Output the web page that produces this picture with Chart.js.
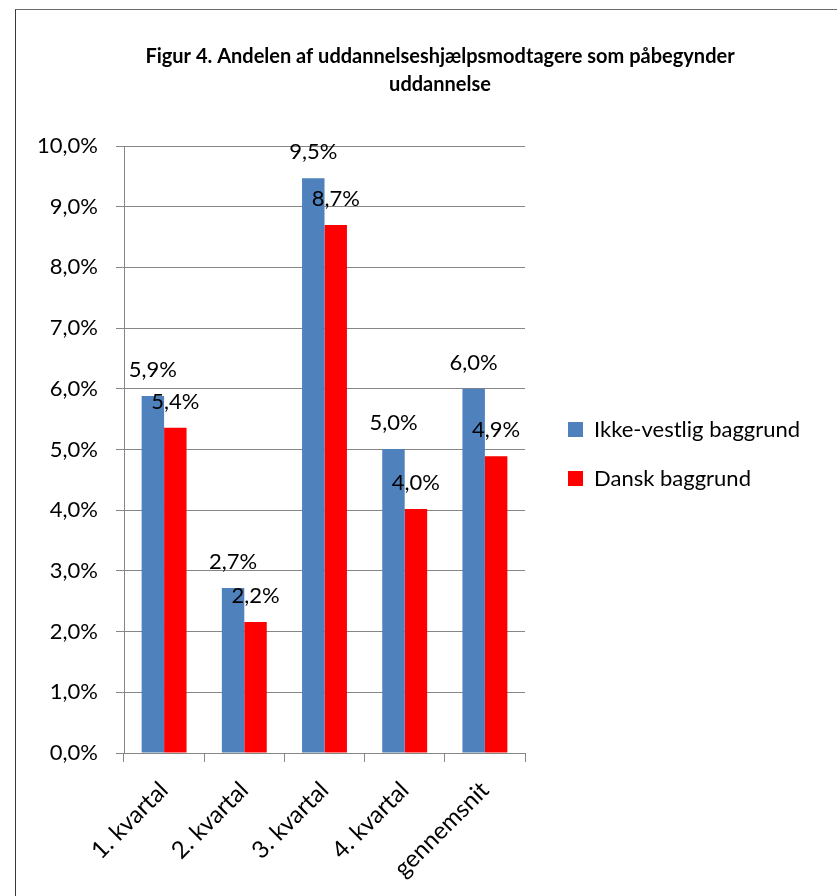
<!DOCTYPE html>
<html>
<head>
<meta charset="utf-8">
<script src="https://cdn.jsdelivr.net/npm/chart.js@4/dist/chart.umd.min.js"></script>
<style>
  html, body { margin: 0; padding: 0; background: #fff; overflow: hidden; }
  #frame {
    position: absolute; left: 15px; top: 9px; width: 900px; height: 900px;
    border-left: 1px solid #3a3a3a; border-top: 1px solid #6a6a6a;
  }
  #wrap { position: absolute; left: 0; top: 0; width: 860px; height: 896px; }
</style>
</head>
<body>
<div id="frame"></div>
<div id="wrap"><canvas id="chart" width="860" height="896"></canvas></div>
<script>
const categories = ["1. kvartal", "2. kvartal", "3. kvartal", "4. kvartal", "gennemsnit"];
const ikkeVestlig = [5.88, 2.72, 9.47, 5.01, 6.0];
const dansk = [5.36, 2.16, 8.7, 4.02, 4.89];
const seriesNames = ["Ikke-vestlig baggrund", "Dansk baggrund"];
const titleLines = ["Figur 4. Andelen af uddannelseshjælpsmodtagere som påbegynder", "uddannelse"];

const FONT = "Lato, 'Noto Sans', sans-serif";
const GRID = "#868686";

function pct(v) {
    return v.toFixed(1).replace(".", ",") + "%";
}

// Values above each bar, placed from the bar elements
const barLabels = {
    id: "barLabels",
    afterDatasetsDraw(chart) {
        const ctx = chart.ctx;
        ctx.save();
        ctx.font = "22px " + FONT;
        ctx.fillStyle = "#000";
        ctx.textAlign = "center";
        ctx.textBaseline = "alphabetic";
        chart.data.datasets.forEach((ds, i) => {
            chart.getDatasetMeta(i).data.forEach((bar, j) => {
                ctx.fillText(pct(ds.data[j]), bar.x, bar.y - 19);
            });
        });
        ctx.restore();
    },
};

// Fix the legend width and move the items a bit in from the plot
const legendPlace = {
    id: "legendPlace",
    beforeLayout(chart) {
        const lg = chart.legend;
        if (lg && !lg._fixed) {
            const fit = lg.fit;
            lg.fit = function () {
                fit.call(this);
                this.width = 335;
            };
            lg._fixed = true;
        }
    },
    afterLayout(chart) {
        const lg = chart.legend;
        lg.left += 16;
        lg.right += 16;
        lg.top += 6;
        lg.bottom += 6;
    },
};

new Chart(document.getElementById("chart"), {
    type: "bar",
    data: {
        labels: categories,
        datasets: [
            {
                label: seriesNames[0],
                data: ikkeVestlig,
                backgroundColor: "#4F81BD",
                categoryPercentage: 0.56,
                barPercentage: 1,
            },
            {
                label: seriesNames[1],
                data: dansk,
                backgroundColor: "#FF0000",
                categoryPercentage: 0.56,
                barPercentage: 1,
            },
        ],
    },
    options: {
        responsive: false,
        animation: false,
        layout: {
            padding: { left: 20, right: 0, top: 0, bottom: 0 },
        },
        plugins: {
            title: {
                display: true,
                text: titleLines,
                color: "#000",
                font: { family: FONT, size: 20, weight: "bold", lineHeight: 1.4 },
                padding: { top: 43, bottom: 47 },
            },
            legend: {
                display: true,
                position: "right",
                labels: {
                    color: "#000",
                    boxWidth: 15,
                    boxHeight: 15,
                    padding: 27,
                    font: { family: FONT, size: 22 },
                },
            },
            tooltip: { enabled: false },
        },
        scales: {
            x: {
                grid: {
                    drawOnChartArea: false,
                    drawTicks: true,
                    tickLength: 9,
                    color: GRID,
                },
                border: { color: GRID, width: 1 },
                ticks: {
                    color: "#000",
                    font: { family: FONT, size: 24 },
                    minRotation: 45,
                    maxRotation: 45,
                    padding: 14,
                },
                afterFit(scale) {
                    scale.height = 143;
                },
            },
            y: {
                min: 0,
                max: 10,
                ticks: {
                    stepSize: 1,
                    color: "#000",
                    font: { family: FONT, size: 22 },
                    padding: 18,
                    callback: (v) => pct(v),
                },
                grid: { color: GRID, tickLength: 8 },
                border: { color: GRID, width: 1 },
                afterFit(scale) {
                    scale.width = 104;
                },
            },
        },
    },
    plugins: [barLabels, legendPlace],
});
</script>
</body>
</html>
